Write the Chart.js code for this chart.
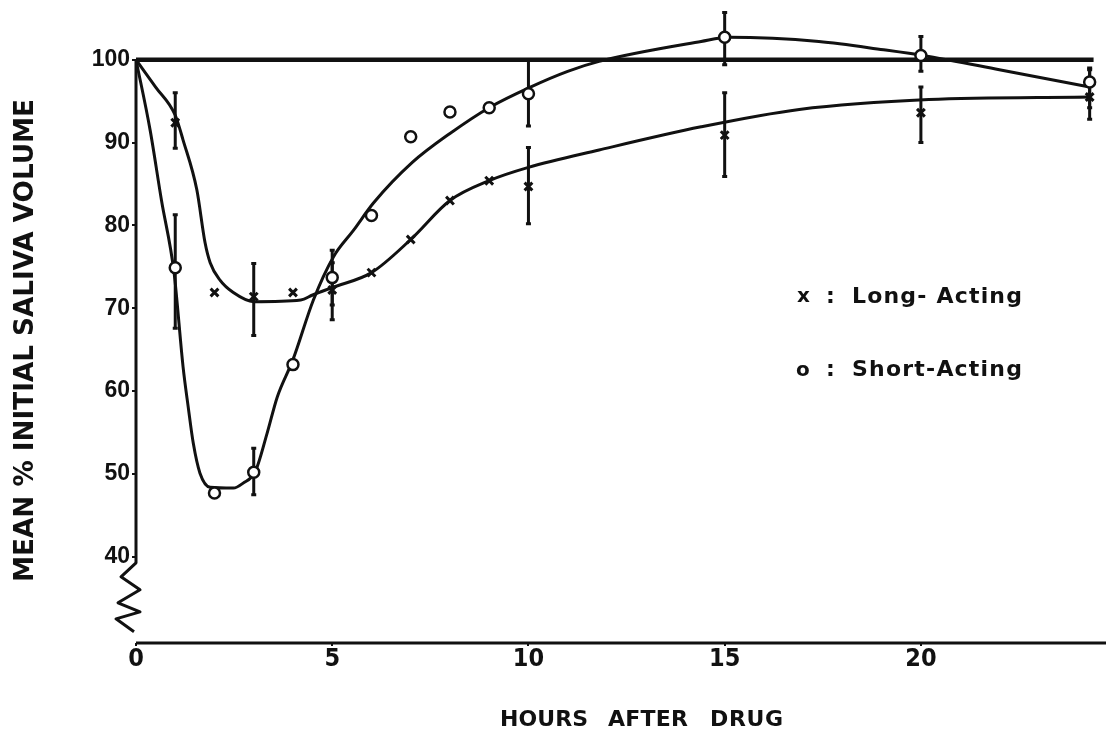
<!DOCTYPE html>
<html>
<head>
<meta charset="utf-8">
<script src="https://cdn.jsdelivr.net/npm/chart.js@4/dist/chart.umd.min.js"></script>
<style>
  html, body { margin: 0; padding: 0; background: #fff; }
  #wrap { width: 1106px; height: 729px; position: relative; }
</style>
</head>
<body>
<div id="wrap"><canvas id="saliva"></canvas></div>
<script>
// measured points (hours after drug, mean % of initial saliva volume)
const hours = [1, 2, 3, 4, 5, 6, 7, 8, 9, 10, 15, 20, 24.3];
const longActing = [92.4, 71.9, 71.4, 71.9, 72.2, 74.3, 78.3, 83.0, 85.4, 84.7, 90.9, 93.6, 95.5];
const shortActing = [74.9, 47.7, 50.2, 63.2, 73.7, 81.2, 90.7, 93.7, 94.2, 95.9, 102.7, 100.5, 97.3];

// error bars
const errHours = [1, 3, 5, 10, 15, 20, 24.3];
const longHigh = [96.0, 75.4, 75.5, 89.4, 96.0, 96.7, 99.0];
const longLow = [89.3, 66.7, 68.6, 80.2, 85.9, 90.0, 92.8];
const shortHigh = [81.3, 53.1, 77.0, 100.0, 105.7, 102.8, 98.8];
const shortLow = [67.6, 47.5, 70.4, 92.0, 99.4, 98.6, 94.2];

// hand-drawn fitted curves
const longCurveX = [0, 0.5, 1, 1.2, 1.55, 1.76, 1.89, 2.14, 2.48, 3, 4.2, 4.5, 5, 6, 7, 8, 9, 10, 11.8, 14.4, 16.9, 20.2, 24.3];
const longCurveY = [100, 96.7, 93.3, 90.3, 84.3, 77.9, 75.5, 73.4, 71.9, 70.8, 71.0, 71.6, 72.5, 74.3, 78.3, 83.0, 85.4, 87.0, 89.1, 91.9, 94.0, 95.2, 95.5];
const shortCurveX = [0, 0.36, 0.65, 0.97, 1.2, 1.33, 1.46, 1.63, 1.89, 2.48, 2.73, 3.04, 3.34, 3.6, 4.0, 4.52, 5.03, 5.54, 6.05, 7.04, 8, 9.03, 10.05, 11, 11.8, 14.4, 15.1, 17.4, 19.05, 20.2, 22, 24.3];
const shortCurveY = [100, 91.5, 83.0, 74.3, 62.9, 58.1, 53.7, 50.1, 48.4, 48.3, 48.9, 50.3, 54.9, 59.3, 63.8, 71.0, 76.2, 79.4, 82.7, 87.6, 91.1, 94.3, 96.7, 98.6, 99.8, 102.2, 102.7, 102.2, 101.2, 100.4, 98.8, 96.7];

// 100 % baseline
const baseX = [0, 24.4];
const baseY = [100, 100];

const xTicks = [0, 5, 10, 15, 20];
const yTicks = [40, 50, 60, 70, 80, 90, 100];

const INK = '#111';
const BOLD = "'DejaVu Sans', sans-serif";

const zip = (xs, ys) => xs.map((x, i) => ({x: x, y: ys[i]}));

// fits a string to a measured width by spacing letters out (or squeezing)
function fitText(ctx, text, x, y, width) {
  ctx.letterSpacing = '0px';
  const w = ctx.measureText(text).width;
  if (w < width && text.length > 1) {
    ctx.letterSpacing = ((width - w) / (text.length - 1)).toFixed(2) + 'px';
    ctx.fillText(text, x, y);
  } else {
    ctx.save();
    ctx.translate(x, y);
    ctx.scale(width / w, 1);
    ctx.fillText(text, 0, 0);
    ctx.restore();
  }
  ctx.letterSpacing = '0px';
}

const errorBars = {
  id: 'errorBars',
  beforeDatasetsDraw(chart) {
    const {ctx, scales: {x, y}} = chart;
    ctx.save();
    ctx.strokeStyle = INK;
    ctx.lineWidth = 3;
    const bars = (lo, hi) => errHours.forEach((h, i) => {
      const px = x.getPixelForValue(h);
      const top = y.getPixelForValue(hi[i]);
      const bot = y.getPixelForValue(lo[i]);
      ctx.beginPath();
      ctx.moveTo(px, top); ctx.lineTo(px, bot);
      ctx.moveTo(px - 2.5, top); ctx.lineTo(px + 2.5, top);
      ctx.moveTo(px - 2.5, bot); ctx.lineTo(px + 2.5, bot);
      ctx.stroke();
    });
    bars(longLow, longHigh);
    bars(shortLow, shortHigh);
    ctx.restore();
  }
};

const decorations = {
  id: 'decorations',
  afterDraw(chart) {
    const {ctx, chartArea, scales: {x, y}} = chart;
    ctx.save();
    // y axis with a break below 40
    const ax = x.getPixelForValue(0);
    const y40 = y.getPixelForValue(40);
    ctx.strokeStyle = INK;
    ctx.lineWidth = 3;
    ctx.lineJoin = 'round';
    ctx.beginPath();
    ctx.moveTo(ax, y.getPixelForValue(100));
    ctx.lineTo(ax, y40 + 6);
    ctx.lineTo(ax - 15, y40 + 20);
    ctx.lineTo(ax + 4, y40 + 33);
    ctx.lineTo(ax - 18, y40 + 46);
    ctx.lineTo(ax + 4, y40 + 55);
    ctx.lineTo(ax - 20, y40 + 62);
    ctx.lineTo(ax - 2, y40 + 75);
    ctx.stroke();
    // x axis, running on to the right edge of the page
    ctx.beginPath();
    ctx.moveTo(chartArea.left, chartArea.bottom);
    ctx.lineTo(chart.width, chartArea.bottom);
    ctx.stroke();

    ctx.fillStyle = INK;
    ctx.textBaseline = 'alphabetic';
    ctx.textAlign = 'left';

    // axis titles
    ctx.save();
    ctx.translate(33, 582);
    ctx.rotate(-Math.PI / 2);
    ctx.font = 'bold 27px ' + BOLD;
    fitText(ctx, 'MEAN % INITIAL SALIVA VOLUME', 0, 0, 483);
    ctx.restore();

    ctx.font = 'bold 22px ' + BOLD;
    fitText(ctx, 'HOURS', 500, 726, 88);
    fitText(ctx, 'AFTER', 608, 726, 80);
    fitText(ctx, 'DRUG', 710, 726, 73);

    // key
    ctx.font = 'bold 20px ' + BOLD;
    ctx.fillText('x', 797, 302);
    ctx.fillText('o', 796, 376);
    ctx.font = 'bold 22px ' + BOLD;
    ctx.fillText(':', 826, 303);
    ctx.fillText(':', 826, 376);
    fitText(ctx, 'Long- Acting', 852, 303, 170);
    fitText(ctx, 'Short-Acting', 852, 376, 170);
    ctx.restore();
  }
};

new Chart(document.getElementById('saliva'), {
  type: 'scatter',
  data: {
    datasets: [
      {label: 'Long-Acting', data: zip(hours, longActing), pointStyle: 'crossRot', pointRadius: 5.5, borderWidth: 3, borderColor: INK, order: 0},
      {label: 'Short-Acting', data: zip(hours, shortActing), pointStyle: 'circle', pointRadius: 5.5, borderWidth: 2.5, borderColor: INK, backgroundColor: '#fff', order: 0},
      {label: 'Long-Acting curve', data: zip(longCurveX, longCurveY), showLine: true, pointRadius: 0, borderColor: INK, borderWidth: 3, cubicInterpolationMode: 'monotone', order: 1},
      {label: 'Short-Acting curve', data: zip(shortCurveX, shortCurveY), showLine: true, pointRadius: 0, borderColor: INK, borderWidth: 3, cubicInterpolationMode: 'monotone', order: 1},
      {label: '100 %', data: zip(baseX, baseY), showLine: true, pointRadius: 0, borderColor: INK, borderWidth: 4.5, order: 2}
    ]
  },
  options: {
    responsive: true,
    maintainAspectRatio: false,
    animation: false,
    layout: {padding: {top: 10, right: 1, left: 0, bottom: 0}},
    plugins: {legend: {display: false}, tooltip: {enabled: false}},
    scales: {
      x: {
        type: 'linear', min: 0, max: 24.5,
        afterBuildTicks: s => { s.ticks = xTicks.map(v => ({value: v})); },
        afterFit: s => { s.height = 86; s.paddingLeft = 0; s.paddingRight = 0; },
        border: {display: false},
        grid: {drawOnChartArea: false, drawTicks: true, tickLength: 3, color: INK, lineWidth: 2},
        ticks: {color: INK, padding: -2, font: {family: "'Liberation Sans Narrow', 'DejaVu Sans Condensed', sans-serif", size: 25, weight: 'bold'}}
      },
      y: {
        type: 'linear', min: 29.6, max: 106,
        afterBuildTicks: s => { s.ticks = yTicks.map(v => ({value: v})); },
        afterFit: s => { s.width = 136; s.paddingTop = 0; s.paddingBottom = 0; },
        border: {display: false},
        grid: {drawOnChartArea: false, drawTicks: true, tickLength: 4, color: INK, lineWidth: 2},
        ticks: {color: INK, padding: 2, font: {family: "'Liberation Sans', sans-serif", size: 23, weight: 'bold'}}
      }
    }
  },
  plugins: [errorBars, decorations]
});
</script>
</body>
</html>
